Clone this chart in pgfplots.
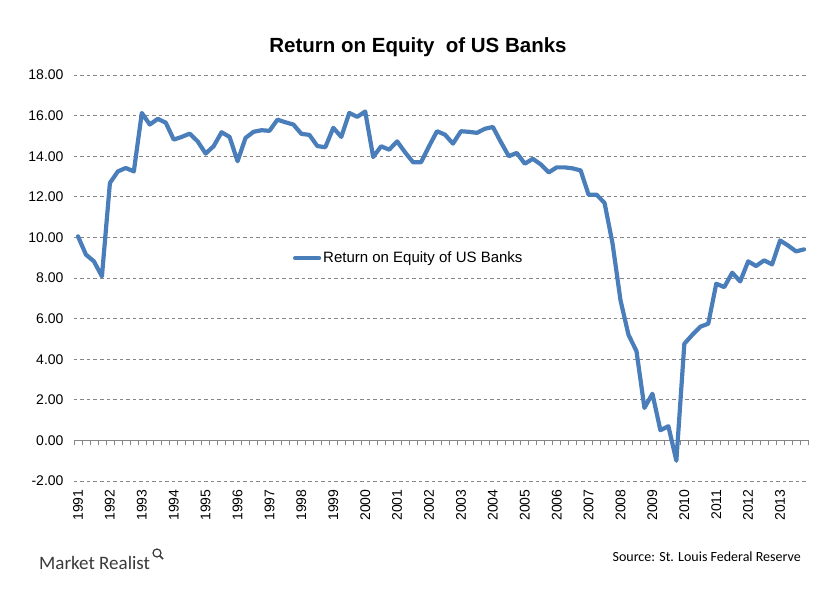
\documentclass[border=0pt]{standalone}
\usepackage{pgfplots}
\pgfplotsset{compat=1.18}
\usepackage{pgfplotstable}
\usepackage{fontspec}
\setmainfont{Liberation Sans}
\newfontfamily\carlito{Carlito}
\definecolor{roeblue}{HTML}{4A7EBB}
\definecolor{gridgray}{HTML}{868686}
\definecolor{logogray}{HTML}{3A3A3A}

\pgfplotstableread{
q roe
0 10.05
1 9.15
2 8.82
3 8.08
4 12.68
5 13.25
6 13.42
7 13.25
8 16.13
9 15.56
10 15.84
11 15.65
12 14.82
13 14.95
14 15.11
15 14.73
16 14.13
17 14.49
18 15.18
19 14.95
20 13.75
21 14.90
22 15.20
23 15.28
24 15.25
25 15.80
26 15.67
27 15.56
28 15.10
29 15.05
30 14.50
31 14.44
32 15.40
33 14.95
34 16.13
35 15.94
36 16.20
37 13.96
38 14.49
39 14.32
40 14.73
41 14.19
42 13.70
43 13.70
44 14.49
45 15.23
46 15.06
47 14.62
48 15.23
49 15.20
50 15.15
51 15.35
52 15.44
53 14.70
54 14.00
55 14.16
56 13.63
57 13.87
58 13.60
59 13.20
60 13.45
61 13.45
62 13.40
63 13.30
64 12.10
65 12.10
66 11.70
67 9.70
68 6.90
69 5.20
70 4.40
71 1.60
72 2.30
73 0.50
74 0.70
75 -1.00
76 4.76
77 5.20
78 5.60
79 5.75
80 7.72
81 7.55
82 8.26
83 7.83
84 8.82
85 8.59
86 8.87
87 8.67
88 9.85
89 9.60
90 9.31
91 9.41
}\roedata

\begin{document}
\begin{tikzpicture}
\path (0pt,0pt) rectangle (840pt,600pt);
% x axis line at zero with quarter tick marks
\begin{axis}[at={(74pt,119pt)}, anchor=south west,
  width=734pt, height=406pt, scale only axis,
  xmin=-0.5, xmax=91.5, ymin=-2, ymax=18,
  axis x line*=middle, axis y line=none,
  x axis line style={gridgray, line width=0.8pt},
  xtick={-0.5,0.5,...,91.5}, xticklabels={},
  tick align=outside, major tick length=5pt,
  xtick style={gridgray, line width=0.6pt},
  ytick=\empty,
]
\end{axis}
\begin{axis}[at={(74pt,119pt)}, anchor=south west,
  width=734pt, height=406pt, scale only axis,
  xmin=-0.5, xmax=91.5, ymin=-2, ymax=18,
  axis line style={draw=none},
  major tick length=0pt,
  ytick={-2,0,...,18},
  ymajorgrids,
  grid style={gridgray, dash pattern=on 3.5pt off 3pt, line width=0.8pt},
  xtick={0,4,...,88},
  xticklabels={1991,1992,1993,1994,1995,1996,1997,1998,1999,2000,2001,2002,2003,2004,2005,2006,2007,2008,2009,2010,2011,2012,2013},
  xticklabel style={rotate=90, anchor=east, font=\fontsize{14}{14}\selectfont, xshift=-5pt},
  yticklabel style={font=\fontsize{14}{14}\selectfont, xshift=-7pt,
    /pgf/number format/.cd, fixed, fixed zerofill, precision=2, assume math mode=true},
  legend style={at={(0.294,0.549)}, anchor=west, draw=none, fill=none,
    font=\fontsize{15}{15}\selectfont},
  legend image code/.code={\draw[#1] (0pt,0pt) -- (24pt,0pt);},
]
\addplot[roeblue, line width=4.2pt, line join=round, line cap=round] table[x=q, y=roe] {\roedata};
\addlegendentry{Return on Equity of US Banks}
\end{axis}
\node[font=\bfseries\fontsize{20.5}{24}\selectfont] at (418pt,553pt) {Return on Equity\ \ of US Banks};
\node[anchor=west, font=\carlito\fontsize{19}{19}\selectfont, text=logogray, inner sep=0pt] at (39pt,37pt) {Market Realist};
\draw[logogray, line width=1.2pt] (157pt,47pt) circle (4pt);
\draw[logogray, line width=1.6pt] (159.8pt,44.2pt) -- (163pt,41pt);
\node[anchor=east, font=\carlito\fontsize{14}{14}\selectfont, inner sep=0pt] at (801pt,43pt) {Source: St. Louis Federal Reserve};
\end{tikzpicture}
\end{document}
